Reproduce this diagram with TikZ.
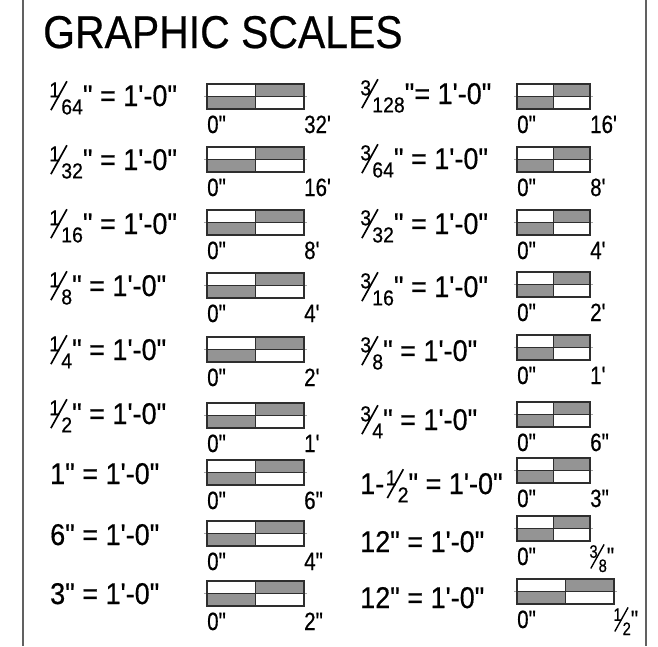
\documentclass[tikz,border=0pt]{standalone}
\usepackage{fontspec}
\setmainfont{Liberation Sans}[FakeStretch=0.89,FakeBold=0.5,Ligatures=TeXOff]
\newfontfamily\labfont{Liberation Sans}[FakeStretch=0.9,FakeBold=0.5,Ligatures=TeXOff]
\newfontfamily\tickfont{Liberation Sans}[FakeStretch=0.82,FakeBold=0.5,Ligatures=TeXOff]
\usepackage{graphicx}
% stacked fraction: slanted bar, raised numerator, lowered denominator
\newcommand\frc[2]{\rlap{\raisebox{-0.15em}{\rotatebox{61}{\rule{1.1em}{0.055em}}}}\kern-0.03em\raisebox{0.29em}{\scalebox{0.72}{#1}}\kern0.04em\raisebox{-0.28em}{\scalebox{0.72}{#2}}}

\begin{document}
\begin{tikzpicture}[x=1pt,y=-1pt,
  border/.style={draw=black!62,line width=2pt},
  title/.style={font=\fontsize{46}{46}\selectfont,inner sep=0pt,anchor=base west},
  scaletext/.style={font=\labfont\fontsize{30}{30}\selectfont,inner sep=0pt,anchor=base west},
  ticktext/.style={font=\tickfont\fontsize{25}{25}\selectfont,inner sep=0pt,anchor=base west},
  barfill/.style={fill=black!42},
  barline/.style={draw=black!82,line width=1.3pt},
  midline/.style={draw=black!35,line width=0.7pt},
]
\useasboundingbox (0,0) rectangle (658,646);
\draw[border] (23,0)--(23,646);
\draw[border] (646,0)--(646,646);
\node[title] (head) at (43,48) {GRAPHIC SCALES};
\foreach \id/\lx/\ly/\bx/\by/\w/\lab/\rt in {
  a1/50/106/207/84/97/{\frc{1}{64}" = 1'-0"}/{32'},
  a2/50/170/207/147/97/{\frc{1}{32}" = 1'-0"}/{16'},
  a3/50/234/207/210/97/{\frc{1}{16}" = 1'-0"}/{8'},
  a4/50/296/207/273/97/{\frc{1}{8}" = 1'-0"}/{4'},
  a5/50/360/207/337/97/{\frc{1}{4}" = 1'-0"}/{2'},
  a6/50/424/207/403/97/{\frc{1}{2}" = 1'-0"}/{1'},
  a7/50/484/207/460/97/{1" = 1'-0"}/{6"},
  a8/50/545/207/521/97/{6" = 1'-0"}/{4"},
  a9/50/604/207/581/97/{3" = 1'-0"}/{2"},
  b1/361/104/517/84/73/{\frc{3}{128}"= 1'-0"}/{16'},
  b2/361/169/517/147/73/{\frc{3}{64}" = 1'-0"}/{8'},
  b3/361/234/517/210/73/{\frc{3}{32}" = 1'-0"}/{4'},
  b4/361/297/517/272/73/{\frc{3}{16}" = 1'-0"}/{2'},
  b5/361/361/517/335/73/{\frc{3}{8}" = 1'-0"}/{1'},
  b6/361/430/517/402/73/{\frc{3}{4}" = 1'-0"}/{6"},
  b7/360/494/517/458/73/{1-\kern0.08em\frc{1}{2}" = 1'-0"}/{3"},
  b8/360/552/517/516/73/{12" = 1'-0"}/{\frc{3}{8}"},
  b9/360/608/517/579/97/{12" = 1'-0"}/{\frc{1}{2}"}}{
  \node[scaletext] (lab-\id) at (\lx,\ly) {\lab};
  \fill[barfill] (\bx+\w/2,\by) rectangle ++(\w/2,12.5);
  \fill[barfill] (\bx,\by+12.5) rectangle ++(\w/2,12.5);
  \draw[midline] (\bx-3,\by+12.5) -- ++(\w+6,0);
  \draw[barline] (\bx,\by) rectangle ++(\w,25)
    (\bx+\w/2,\by) -- ++(0,25) (\bx,\by+12.5) -- ++(\w,0);
  \node[ticktext] (zero-\id) at (\bx,\by+49) {0"};
  \node[ticktext] (end-\id) at (\bx+\w,\by+49) {\rt};
}
\end{tikzpicture}
\end{document}
